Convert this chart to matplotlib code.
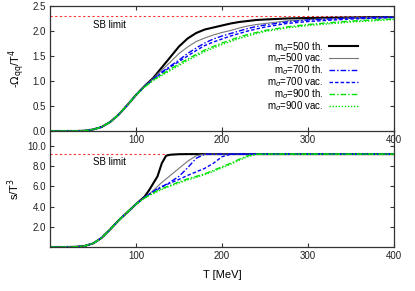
import matplotlib
matplotlib.use("Agg")
import matplotlib.pyplot as plt

plt.rcParams['font.family'] = ['Liberation Sans', 'DejaVu Sans']
plt.rcParams['mathtext.fontset'] = 'dejavusans'
plt.rcParams['font.size'] = 7

# ---------------- data ----------------
T_top = [0, 20, 30, 40, 50, 60, 70, 80, 90, 100, 110, 120, 130, 140, 150, 160, 170,
         180, 190, 200, 210, 220, 230, 240, 250, 275, 300, 350, 400]
om_500_th  = [0, 0, 0, 0.005, 0.03, 0.08, 0.18, 0.33, 0.52, 0.72, 0.90, 1.06, 1.27, 1.48, 1.69, 1.85,
              1.96, 2.03, 2.07, 2.11, 2.15, 2.18, 2.20, 2.22, 2.23, 2.25, 2.26, 2.27, 2.28]
om_500_vac = [0, 0, 0, 0.005, 0.03, 0.08, 0.18, 0.33, 0.52, 0.72, 0.90, 1.05, 1.22, 1.38, 1.55, 1.68,
              1.79, 1.86, 1.92, 1.97, 2.01, 2.06, 2.10, 2.13, 2.15, 2.20, 2.23, 2.26, 2.28]
om_700_th  = [0, 0, 0, 0.005, 0.03, 0.08, 0.18, 0.33, 0.52, 0.72, 0.89, 1.04, 1.18, 1.30, 1.42, 1.55,
              1.66, 1.76, 1.84, 1.90, 1.95, 2.00, 2.05, 2.09, 2.12, 2.18, 2.22, 2.26, 2.28]
om_700_vac = [0, 0, 0, 0.005, 0.03, 0.08, 0.18, 0.33, 0.52, 0.72, 0.89, 1.03, 1.16, 1.28, 1.39, 1.50,
              1.61, 1.71, 1.78, 1.84, 1.90, 1.95, 2.00, 2.04, 2.08, 2.15, 2.19, 2.24, 2.27]
om_900_th  = [0, 0, 0, 0.005, 0.03, 0.08, 0.18, 0.33, 0.52, 0.72, 0.88, 1.02, 1.13, 1.24, 1.34, 1.44,
              1.53, 1.62, 1.69, 1.76, 1.82, 1.88, 1.93, 1.97, 2.01, 2.08, 2.13, 2.20, 2.24]
om_900_vac = [0, 0, 0, 0.005, 0.03, 0.08, 0.18, 0.33, 0.52, 0.72, 0.88, 1.01, 1.11, 1.21, 1.31, 1.41,
              1.50, 1.59, 1.66, 1.73, 1.79, 1.85, 1.90, 1.95, 1.99, 2.06, 2.11, 2.18, 2.23]

T_bot = [0, 20, 30, 40, 50, 60, 70, 80, 90, 100, 110, 115, 120, 125, 130, 135, 140, 150,
         160, 170, 180, 190, 200, 210, 220, 230, 240, 250, 300, 400]
s_500_th  = [0, 0, 0.02, 0.1, 0.35, 0.9, 1.75, 2.65, 3.45, 4.25, 5.0, 5.6, 6.3, 7.0, 8.3, 9.05, 9.15, 9.2,
             9.21, 9.21, 9.21, 9.21, 9.21, 9.21, 9.21, 9.21, 9.21, 9.21, 9.21, 9.21]
s_500_vac = [0, 0, 0.02, 0.1, 0.35, 0.9, 1.75, 2.65, 3.45, 4.25, 4.95, 5.25, 5.6, 6.0, 6.4, 6.75, 7.1, 7.8,
             8.5, 9.05, 9.2, 9.21, 9.21, 9.21, 9.21, 9.21, 9.21, 9.21, 9.21, 9.21]
s_700_th  = [0, 0, 0.02, 0.1, 0.35, 0.9, 1.75, 2.65, 3.45, 4.25, 4.9, 5.2, 5.5, 5.8, 6.0, 6.2, 6.45, 7.0,
             7.85, 8.8, 9.2, 9.21, 9.21, 9.21, 9.21, 9.21, 9.21, 9.21, 9.21, 9.21]
s_700_vac = [0, 0, 0.02, 0.1, 0.35, 0.9, 1.75, 2.65, 3.45, 4.25, 4.9, 5.2, 5.45, 5.7, 5.95, 6.15, 6.35, 6.7,
             7.1, 7.45, 7.8, 8.3, 8.95, 9.2, 9.21, 9.21, 9.21, 9.21, 9.21, 9.21]
s_900_th  = [0, 0, 0.02, 0.1, 0.35, 0.9, 1.75, 2.65, 3.45, 4.25, 4.85, 5.1, 5.35, 5.6, 5.8, 5.95, 6.1, 6.45,
             6.75, 7.0, 7.25, 7.6, 7.95, 8.3, 8.7, 9.05, 9.2, 9.21, 9.21, 9.21]
s_900_vac = [0, 0, 0.02, 0.1, 0.35, 0.9, 1.75, 2.65, 3.45, 4.25, 4.85, 5.1, 5.3, 5.5, 5.7, 5.9, 6.05, 6.35,
             6.65, 6.9, 7.2, 7.5, 7.85, 8.2, 8.6, 8.95, 9.2, 9.21, 9.21, 9.21]

sb_omega = 2.30
sb_s = 9.21

labels = [r"m$_\sigma$=500 th.", r"m$_\sigma$=500 vac.", r"m$_\sigma$=700 th.",
          r"m$_\sigma$=700 vac.", r"m$_\sigma$=900 th.", r"m$_\sigma$=900 vac."]
styles = [dict(color='black', lw=1.5, ls='-'),
          dict(color='#777777', lw=0.8, ls='-'),
          dict(color='#0000ff', lw=1.0, ls=(0, (4, 1.5, 1, 1.5))),
          dict(color='#0000ff', lw=1.0, ls=(0, (2.5, 1.5))),
          dict(color='#00e000', lw=1.0, ls=(0, (4, 1.5, 1, 1.5))),
          dict(color='#00e000', lw=1.0, ls=(0, (1, 1.2)))]

W, H = 415, 291
fig = plt.figure(figsize=(W / 100, H / 100), dpi=100)
left = 50 / W
width = (394 - 50) / W
ax1 = fig.add_axes([left, 1 - 131 / H, width, (131 - 6) / H])
ax2 = fig.add_axes([left, 1 - 247 / H, width, (247 - 131) / H])
ax2.patch.set_alpha(0)

top_series = [om_500_th, om_500_vac, om_700_th, om_700_vac, om_900_th, om_900_vac]
bot_series = [s_500_th, s_500_vac, s_700_th, s_700_vac, s_900_th, s_900_vac]

sb_style = dict(color='#ff3030', lw=0.8, ls=(0, (2, 2.2)))

ax1.axhline(sb_omega, **sb_style)
for vals, lab, st in zip(top_series, labels, styles):
    ax1.plot(T_top, vals, label=lab, **st)
ax1.text(50, 2.12, "SB limit", fontsize=7, va='center')

ax2.axhline(sb_s, **sb_style)
for vals, st in zip(bot_series, styles):
    ax2.plot(T_bot, vals, **st)
ax2.text(50, 8.45, "SB limit", fontsize=7, va='center')

ax1.set_xlim(0, 400)
ax1.set_ylim(0, 2.5)
ax1.set_yticks([0, 0.5, 1.0, 1.5, 2.0, 2.5])
ax1.set_yticklabels(["0.0", "0.5", "1.0", "1.5", "2.0", "2.5"])
ax1.set_xticks([100, 200, 300, 400])
ax1.set_ylabel(r"-$\Omega_{\rm qq}$/T$^4$", fontsize=8, labelpad=4)

ax2.set_xlim(0, 400)
ax2.set_ylim(0, 11.5)
ax2.set_yticks([2, 4, 6, 8, 10])
ax2.set_yticklabels(["2.0", "4.0", "6.0", "8.0", "10.0"])
ax2.set_xticks([100, 200, 300, 400])
ax2.set_ylabel(r"s/T$^3$", fontsize=8, labelpad=4)
ax2.set_xlabel("T [MeV]", fontsize=8, labelpad=6)
ax2.spines['top'].set_visible(False)

for ax in (ax1, ax2):
    ax.tick_params(direction='in', length=3, width=0.8, top=True, right=True,
                   labelsize=7, pad=3, colors='#333333', labelcolor='#222222')
    for sp in ax.spines.values():
        sp.set_color('#333333')
        sp.set_linewidth(0.9)

leg = ax1.legend(loc='upper right', bbox_to_anchor=(0.895, 0.73), frameon=False,
                 markerfirst=False, fontsize=7, handlelength=3.0, handletextpad=0.5,
                 labelspacing=-0.2, borderpad=0, borderaxespad=0)

fig.savefig("out.png", dpi=100)
